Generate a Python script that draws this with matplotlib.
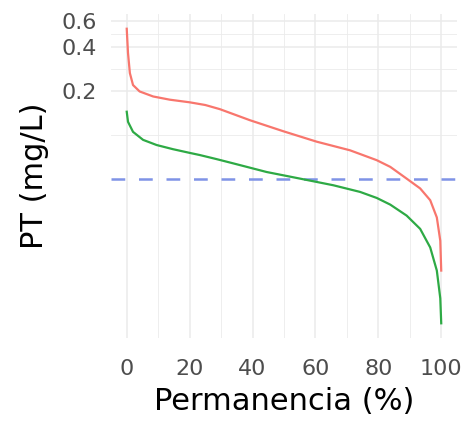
import numpy as np
import matplotlib
matplotlib.use("Agg")
import matplotlib.pyplot as plt

# permanence curve values
red_pct = [0, 0.4, 1, 2, 4.1, 8.4, 13.7, 20, 25, 29.6, 39.2, 49.8, 60.4, 71, 79.5,
           83.8, 89, 93.3, 96.5, 98.6, 99.7, 100]
red_pt = [0.53, 0.363, 0.264, 0.219, 0.198, 0.183, 0.174, 0.167, 0.160, 0.150, 0.126,
          0.106, 0.090, 0.0786, 0.0673, 0.0606, 0.0504, 0.0432, 0.0359, 0.0274, 0.019, 0.0119]

green_pct = [0, 0.4, 2, 5.2, 9.5, 14.7, 20, 23.2, 28.5, 33.9, 44.5, 55.1, 65.7, 74.2,
             79.5, 83.8, 89, 93.3, 96.5, 98.6, 99.7, 100]
green_pt = [0.144, 0.123, 0.105, 0.0926, 0.0854, 0.080, 0.0755, 0.073, 0.0685, 0.064,
            0.0559, 0.0504, 0.0454, 0.0409, 0.0372, 0.0335, 0.0282, 0.0229, 0.0171, 0.0119,
            0.0077, 0.0052]

limit_pt = 0.05

y_major = [0.2, 0.4, 0.6]
y_labels = ["0.2", "0.4", "0.6"]
y_minor = [0.1, 0.283, 0.49]
x_major = [0, 20, 40, 60, 80, 100]
x_minor = [10, 30, 50, 70, 90]

plt.rcParams['font.family'] = ['DejaVu Sans']

fig = plt.figure(figsize=(4.75, 4.22), dpi=100)
ax = fig.add_axes([0.2337, 0.199, 0.962 - 0.2337, 0.9668 - 0.199])

ax.set_yscale('log')

grid_col = "#EBEBEB"
for v in y_major:
    ax.axhline(v, color=grid_col, lw=1.1, zorder=0)
for v in y_minor:
    ax.axhline(v, color=grid_col, lw=0.6, zorder=0)
for v in x_major:
    ax.axvline(v, color=grid_col, lw=1.1, zorder=0)
for v in x_minor:
    ax.axvline(v, color=grid_col, lw=0.6, zorder=0)

ax.plot(red_pct, red_pt, color="#F8766D", lw=1.6, zorder=3, solid_joinstyle='round')
ax.plot(green_pct, green_pt, color="#2EAA45", lw=1.6, zorder=3, solid_joinstyle='round')
ax.axhline(limit_pt, color="#7F93E6", lw=1.8, ls=(0, (5.5, 5.5)), zorder=2)

# ggplot-like 5% expansion
ax.set_xlim(-5, 105)
lo = np.log10(min(green_pt))
hi = np.log10(max(red_pt))
pad = (hi - lo) * 0.05
ax.set_ylim(10 ** (lo - pad), 10 ** (hi + pad))

ax.set_yticks(y_major)
ax.set_yticklabels(y_labels)
ax.yaxis.set_minor_locator(matplotlib.ticker.NullLocator())
ax.set_xticks(x_major)

for s in ax.spines.values():
    s.set_visible(False)
ax.tick_params(axis='both', length=0, labelsize=16, labelcolor="#4D4D4D")
ax.tick_params(axis='y', pad=10)
ax.tick_params(axis='x', pad=15)

ax.set_xlabel("Permanencia (%)", fontsize=22, labelpad=6)
ax.set_ylabel("PT (mg/L)", fontsize=22, labelpad=9)

fig.savefig("out.png", dpi=100)
